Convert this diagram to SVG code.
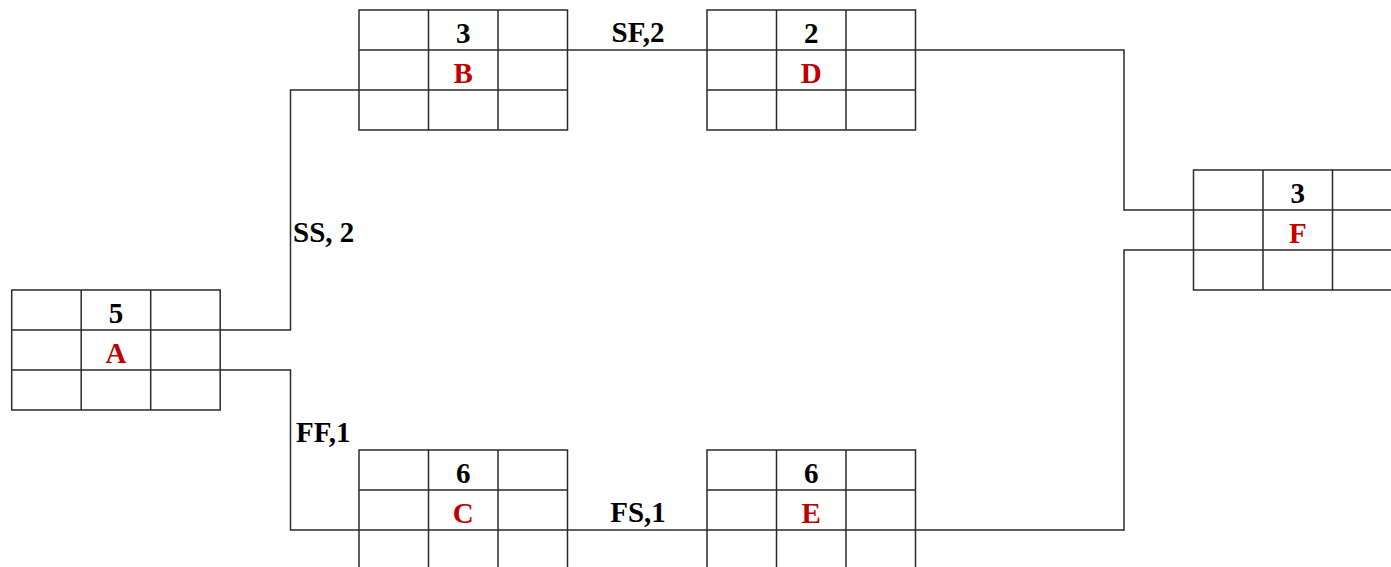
<svg xmlns="http://www.w3.org/2000/svg" width="1391" height="567" viewBox="0 0 1391 567">
<style>
.grid{fill:none;stroke:#2a2a2a;stroke-width:1.5}
.conn{fill:none;stroke:#2a2a2a;stroke-width:1.5}
.num{font-family:"Liberation Serif","Times New Roman",serif;font-weight:bold;font-size:29px;fill:#000;text-anchor:middle}
.name{font-family:"Liberation Serif","Times New Roman",serif;font-weight:bold;font-size:29px;fill:#C00000;text-anchor:middle}
.lbl{font-family:"Liberation Serif","Times New Roman",serif;font-weight:bold;font-size:29px;fill:#000}
</style>
<defs>
<path id="cells" class="grid" d="M0,0 H208.5 V120 H0 Z M69.5,0 V120 M139,0 V120 M0,40 H208.5 M0,80 H208.5"/>
</defs>
<rect width="1391" height="567" fill="#fff"/>
<g id="connectors">
<path class="conn" d="M220.5,330 H290.5 V90 H359"/>
<path class="conn" d="M220.5,370 H290.5 V530 H359"/>
<path class="conn" d="M568,50 H707"/>
<path class="conn" d="M568,530 H707"/>
<path class="conn" d="M915.5,50 H1124 V210 H1193.5"/>
<path class="conn" d="M915.5,530 H1124 V250 H1193.5"/>
<text class="lbl" x="293" y="242">SS, 2</text>
<text class="lbl" x="296" y="441.5">FF,1</text>
<text class="lbl" x="638" y="42" text-anchor="middle">SF,2</text>
<text class="lbl" x="638" y="521.5" text-anchor="middle">FS,1</text>
</g>
<g id="node-A" transform="translate(11.7,290)">
<use href="#cells"/>
<text class="num" x="104.25" y="33">5</text>
<text class="name" x="104.25" y="73">A</text>
</g>
<g id="node-B" transform="translate(359,10)">
<use href="#cells"/>
<text class="num" x="104.25" y="33">3</text>
<text class="name" x="104.25" y="73">B</text>
</g>
<g id="node-D" transform="translate(707,10)">
<use href="#cells"/>
<text class="num" x="104.25" y="33">2</text>
<text class="name" x="104.25" y="73">D</text>
</g>
<g id="node-F" transform="translate(1193.5,170)">
<use href="#cells"/>
<text class="num" x="104.25" y="33">3</text>
<text class="name" x="104.25" y="73">F</text>
</g>
<g id="node-C" transform="translate(359,450)">
<use href="#cells"/>
<text class="num" x="104.25" y="33">6</text>
<text class="name" x="104.25" y="73">C</text>
</g>
<g id="node-E" transform="translate(707,450)">
<use href="#cells"/>
<text class="num" x="104.25" y="33">6</text>
<text class="name" x="104.25" y="73">E</text>
</g>
</svg>
